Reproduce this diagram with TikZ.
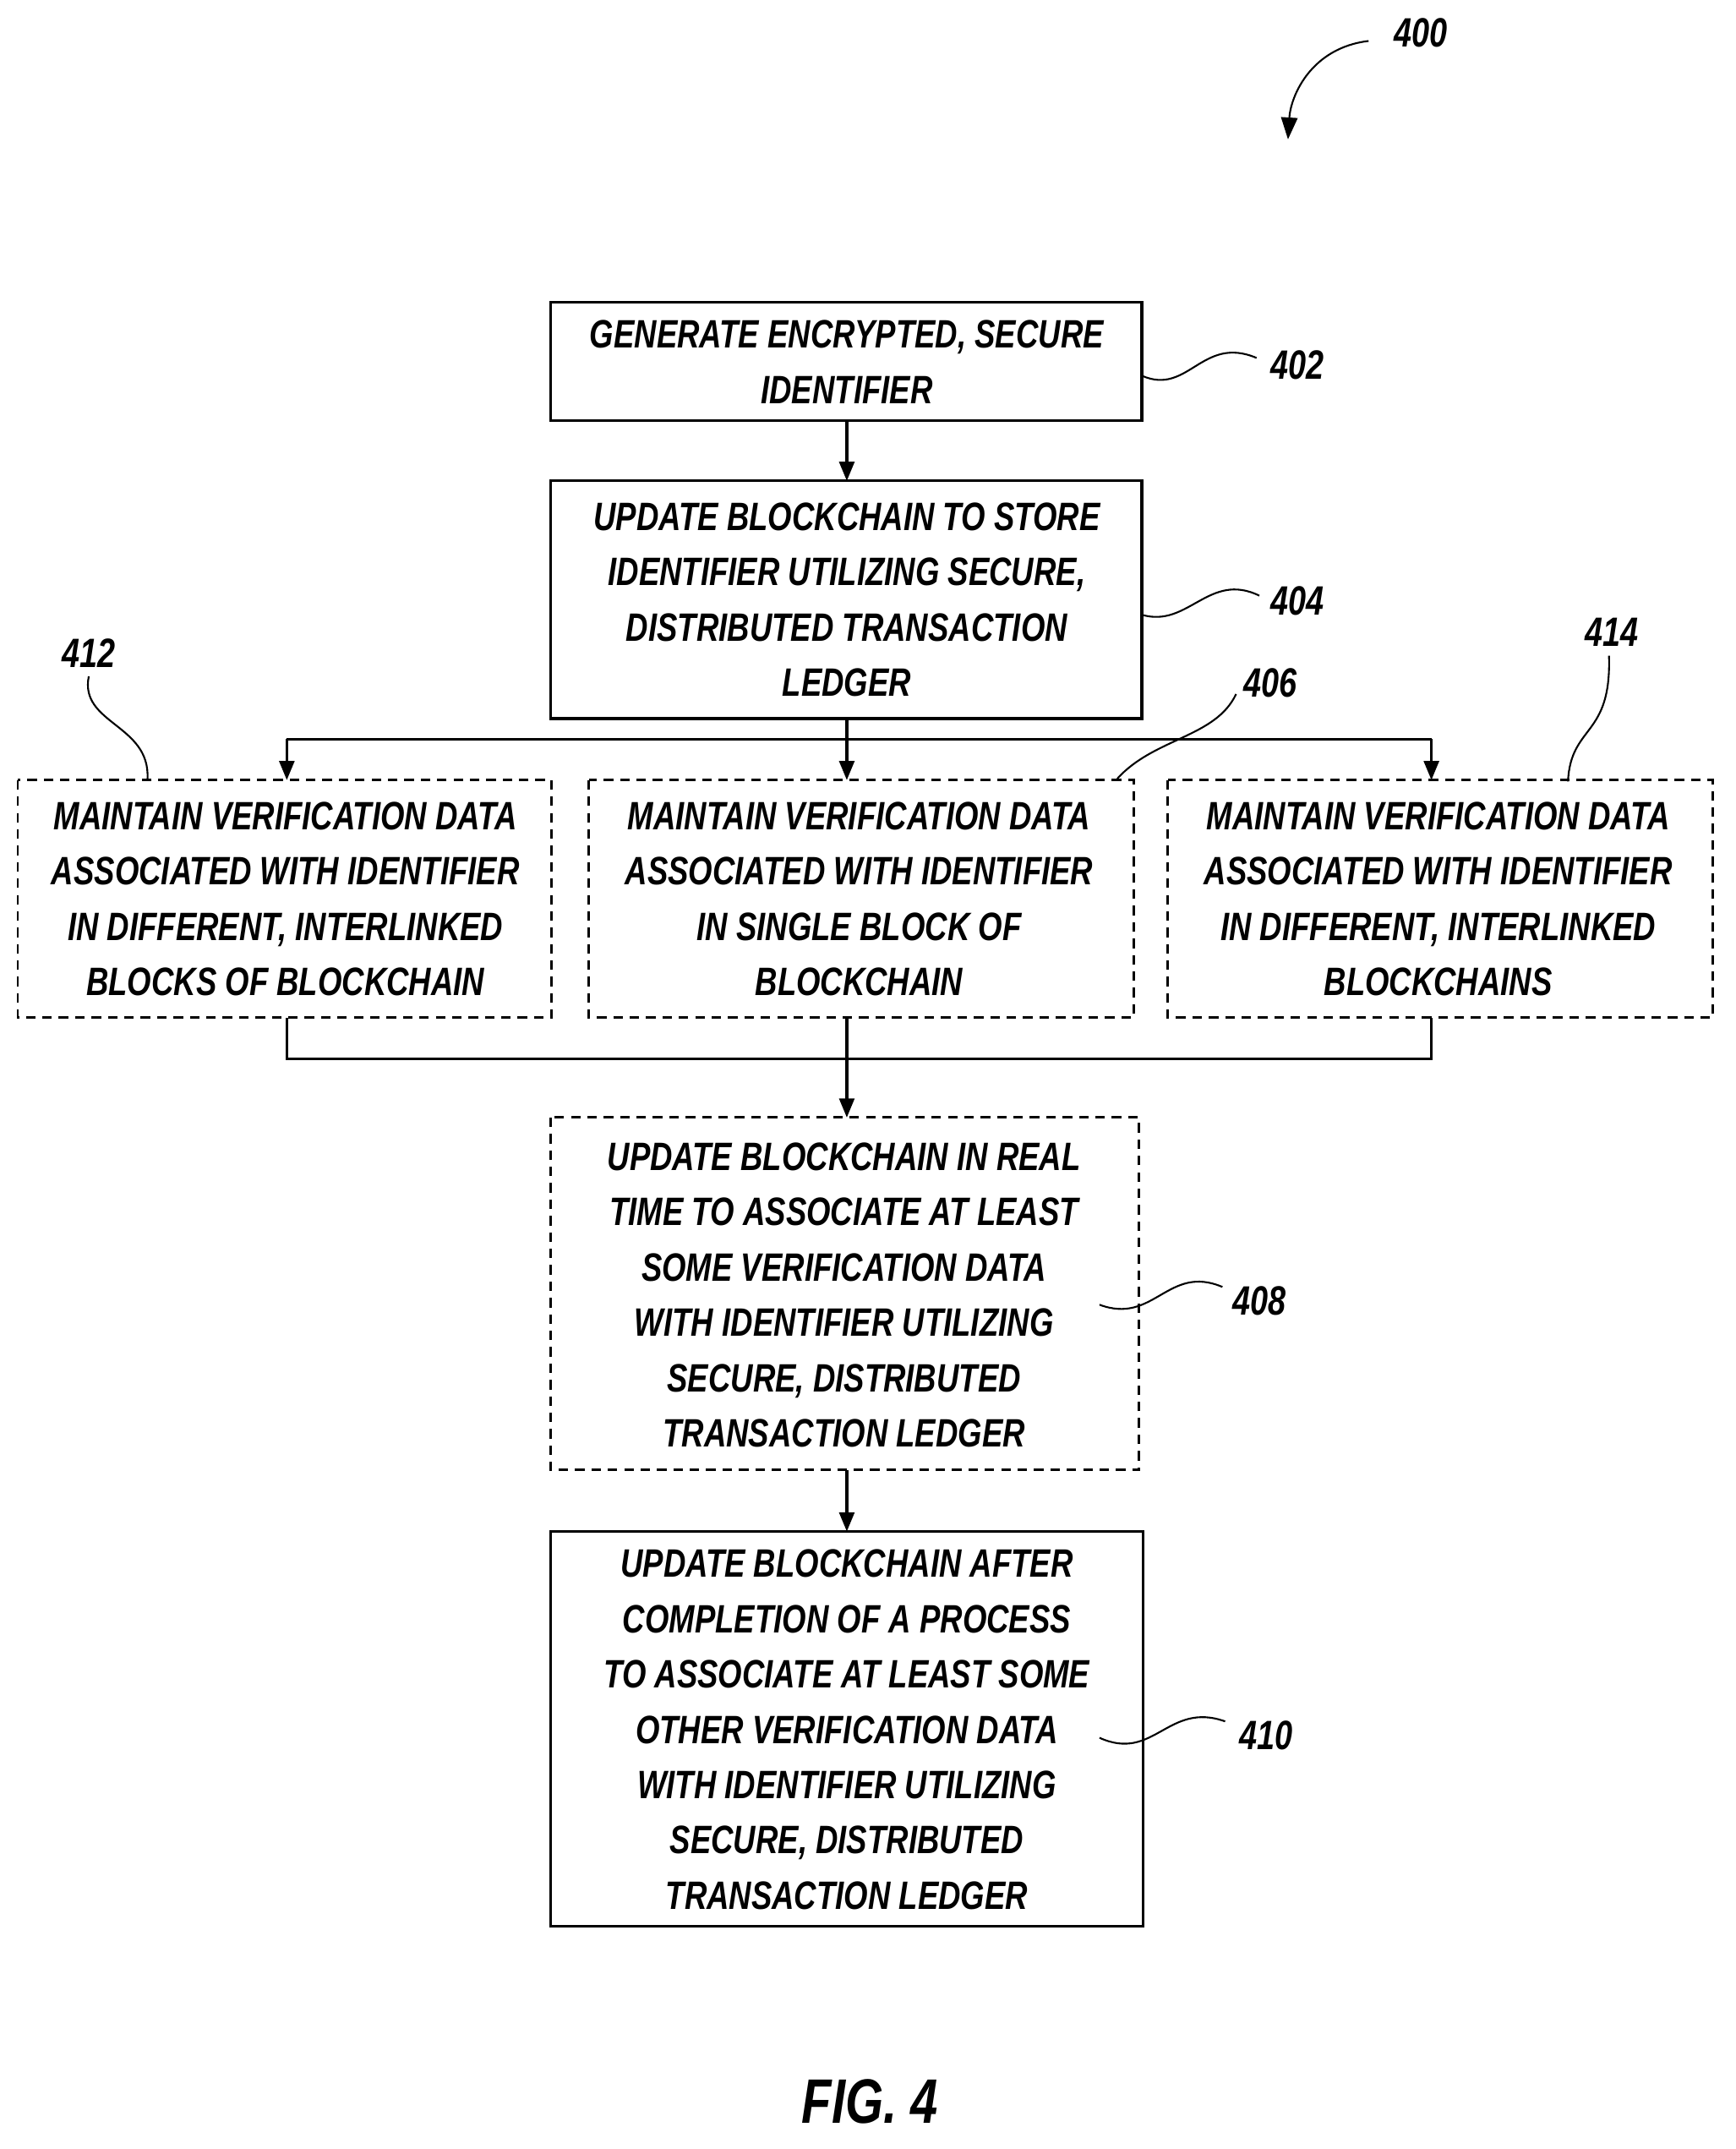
\documentclass[tikz,border=0pt]{standalone}
\usepackage{fontspec}
\setmainfont{Liberation Sans}[FakeStretch=0.78]
\usetikzlibrary{arrows.meta}
\begin{document}
\begin{tikzpicture}[x=1pt,y=-1pt,
  box/.style={draw,line width=2pt},
  dbox/.style={draw,line width=1.8pt,dash pattern=on 7pt off 5pt},
  txt/.style={font=\fontsize{29}{40.5}\selectfont\bfseries\itshape,align=center,inner sep=0},
  lab/.style={font=\fontsize{30}{36}\selectfont\bfseries\itshape,inner sep=0},
  arr/.style={line width=2pt,-{Triangle[length=14pt,width=11pt]}},
  ln/.style={line width=2pt},
  sq/.style={line width=1.3pt}]
\useasboundingbox (0,0) rectangle (1271,1573);
% boxes
\draw[box] (403,221) rectangle (836,308) coordinate (b402);
\node[txt] (t402) at (620,265) {GENERATE ENCRYPTED, SECURE\\IDENTIFIER};
\draw[box] (403,352) rectangle (836,526);
\node[txt] (t404) at (620,439) {UPDATE BLOCKCHAIN TO STORE\\IDENTIFIER UTILIZING SECURE,\\DISTRIBUTED TRANSACTION\\LEDGER};
\draw[dbox] (13,571) rectangle (404,745);
\node[txt] (t412) at (209,658) {MAINTAIN VERIFICATION DATA\\ASSOCIATED WITH IDENTIFIER\\IN DIFFERENT, INTERLINKED\\BLOCKS OF BLOCKCHAIN};
\draw[dbox] (431,571) rectangle (830,745);
\node[txt] (t406) at (629,658) {MAINTAIN VERIFICATION DATA\\ASSOCIATED WITH IDENTIFIER\\IN SINGLE BLOCK OF\\BLOCKCHAIN};
\draw[dbox] (855,571) rectangle (1254,745);
\node[txt] (t414) at (1053,658) {MAINTAIN VERIFICATION DATA\\ASSOCIATED WITH IDENTIFIER\\IN DIFFERENT, INTERLINKED\\BLOCKCHAINS};
\draw[dbox] (403,818) rectangle (834,1076);
\node[txt] (t408) at (618,948) {UPDATE BLOCKCHAIN IN REAL\\TIME TO ASSOCIATE AT LEAST\\SOME VERIFICATION DATA\\WITH IDENTIFIER UTILIZING\\SECURE, DISTRIBUTED\\TRANSACTION LEDGER};
\draw[box] (403,1121) rectangle (837,1410);
\node[txt] (t410) at (620,1266) {UPDATE BLOCKCHAIN AFTER\\COMPLETION OF A PROCESS\\TO ASSOCIATE AT LEAST SOME\\OTHER VERIFICATION DATA\\WITH IDENTIFIER UTILIZING\\SECURE, DISTRIBUTED\\TRANSACTION LEDGER};
% connectors
\coordinate (s1) at (620,541); \coordinate (m1) at (620,775);
\draw[arr] (620,308) -- (620,352);
\draw[ln] (620,526) -- (s1);
\draw[ln] (210,541) -- (1048,541);
\draw[arr] (210,541) -- (210,571);
\draw[arr] (620,541) -- (620,571);
\draw[arr] (1048,541) -- (1048,571);
\draw[ln] (210,745) -- (210,775) -- (1048,775) -- (1048,745);
\draw[ln] (620,745) -- (m1);
\draw[arr] (m1) -- (620,818);
\draw[arr] (620,1076) -- (620,1121);
% labels
\node[lab] (l400) at (1040,24) {400};
\draw[sq,-{Triangle[length=16pt,width=12pt]}] (1002,30) .. controls (960,35) and (945,70) .. (943,102);
\node[lab] (l402) at (950,267) {402};
\draw[sq] (836,275) .. controls (870,290) and (880,245) .. (920,262);
\node[lab] (l404) at (950,440) {404};
\draw[sq] (836,450) .. controls (870,460) and (885,418) .. (922,436);
\node[lab] (l406) at (930,500) {406};
\draw[sq] (818,570) .. controls (845,540) and (890,540) .. (905,508);
\node[lab] (l412) at (65,478) {412};
\draw[sq] (65,495) .. controls (58,530) and (110,530) .. (108,570);
\node[lab] (l414) at (1180,463) {414};
\draw[sq] (1178,480) .. controls (1180,540) and (1150,530) .. (1148,572);
\node[lab] (l408) at (922,952) {408};
\draw[sq] (805,955) .. controls (845,970) and (855,925) .. (895,942);
\node[lab] (l410) at (927,1270) {410};
\draw[sq] (805,1272) .. controls (845,1290) and (855,1245) .. (897,1260);
\node[lab,font=\fontsize{46}{50}\selectfont\bfseries\itshape] (fig) at (637,1538) {FIG. 4};
\end{tikzpicture}
\end{document}
